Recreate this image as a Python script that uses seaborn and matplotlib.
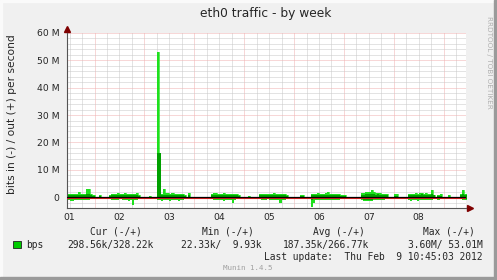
import numpy as np
import matplotlib
matplotlib.use("Agg")
import matplotlib.pyplot as plt
import seaborn as sns
from matplotlib.patches import Rectangle
from matplotlib.transforms import blended_transform_factory

# ---------------- data (values in Mbit/s, hourly, first bin = Feb 1 11:00) ----------------
start_hour = 11
out_avg = [
    0.6, 0.7, 0.6, 0.8, 0.7, 0.9, 0.7, 0.6, 0.7, 1.0, 1.1, 0.6, 0.5, 0, 0, 0.3, 0, 0, 0, 0, 0.5, 0.6, 0.7, 0.6,
    0.7, 0.6, 0.6, 0.8, 0.7, 0.6, 0.7, 0.6, 0.7, 0.6, 0.5, 0, 0, 0, 0, 0.2, 0, 0, 0, 16.0, 16.0, 0.7, 0.9, 0.7,
    0.8, 0.7, 0.8, 0.7, 0.6, 0.7, 0.6, 0.7, 0.5, 0, 0.6, 0, 0, 0, 0, 0, 0, 0, 0, 0, 0, 0.6, 0.8, 0.8,
    0.7, 0.6, 0.7, 0.8, 0.6, 0.7, 0.6, 0.6, 0.7, 0.6, 0.5, 0, 0, 0, 0, 0.2, 0, 0, 0, 0, 0.6, 0.7, 0.6, 0.7,
    0.6, 0.7, 0.6, 0.8, 0.7, 0.6, 0.7, 0.6, 0.6, 0.5, 0, 0, 0, 0, 0, 0, 0.3, 0.3, 0, 0, 0, 0.6, 0.7, 0.6,
    0.8, 0.7, 0.6, 0.7, 0.8, 0.9, 0.7, 0.6, 0.7, 0.6, 0.7, 0.5, 0.3, 0.3, 0, 0, 0, 0, 0, 0, 0, 0.8, 0.9, 1.0,
    1.1, 1.0, 1.2, 1.0, 0.9, 1.0, 0.8, 0.9, 0.7, 0.6, 0, 0, 0, 0.5, 0.5, 0, 0, 0, 0, 0, 0.7, 0.8, 0.7, 0.9,
    0.8, 0.9, 1.0, 0.8, 0.9, 0.8, 0.7, 1.0, 0.6, 0, 0.3, 0.3, 0, 0, 0, 0.2, 0, 0, 0, 0, 0, 0.6, 1.0, 0.7,
]
out_max = [
    1.0, 1.2, 1.0, 1.3, 1.1, 2.0, 1.2, 1.0, 1.1, 3.0, 3.0, 1.2, 0.8, 0, 0, 0.8, 0, 0, 0, 0, 0.9, 1.1, 1.2, 1.0,
    1.5, 1.1, 1.0, 1.6, 1.2, 1.0, 1.3, 1.1, 1.2, 1.4, 0.9, 0, 0, 0, 0, 0.4, 0, 0, 0, 53.0, 1.2, 1.3, 3.0, 1.4,
    1.6, 1.2, 1.5, 1.1, 1.0, 1.2, 1.0, 1.3, 0.8, 0, 1.5, 0, 0, 0, 0, 0, 0, 0, 0, 0, 0, 1.0, 1.5, 1.5,
    1.3, 1.0, 1.2, 1.6, 1.1, 1.3, 1.0, 1.1, 1.2, 1.0, 0.8, 0, 0, 0, 0, 0.4, 0, 0, 0, 0, 1.0, 1.2, 1.0, 1.1,
    1.0, 1.2, 1.1, 1.6, 1.2, 1.0, 1.1, 1.0, 1.2, 0.8, 0, 0, 0, 0, 0, 0, 0.8, 0.7, 0, 0, 0, 1.0, 1.2, 1.0,
    1.5, 1.2, 1.1, 1.3, 1.4, 2.0, 1.2, 1.0, 1.2, 1.1, 1.3, 0.9, 0.8, 0.8, 0, 0, 0, 0, 0, 0, 0, 1.4, 1.6, 1.8,
    1.7, 2.0, 2.6, 1.9, 1.6, 1.5, 1.4, 1.3, 1.1, 1.0, 0, 0, 0, 1.2, 1.2, 0, 0, 0, 0, 0, 1.2, 1.3, 1.1, 1.6,
    1.3, 1.5, 1.6, 1.3, 1.5, 1.2, 1.1, 2.5, 0.9, 0, 0.8, 1.2, 0, 0, 0, 0.6, 0, 0, 0, 0, 0, 1.2, 2.5, 1.3,
]
in_avg = [
    0.6, 0.7, 0.8, 0.7, 0.6, 0.7, 0.6, 0.7, 0.6, 0.5, 0.6, 0.5, 0.4, 0, 0, 0.2, 0, 0, 0, 0, 0.5, 0.6, 0.5, 0.6,
    0.6, 0.5, 0.6, 0.5, 0.6, 0.7, 0.6, 0.8, 0.6, 0.5, 0.5, 0, 0, 0, 0, 0.1, 0, 0, 0, 0.8, 0.7, 0.8, 0.6, 0.7,
    0.6, 0.7, 0.6, 0.5, 0.6, 0.7, 0.6, 0.5, 0.4, 0, 0.3, 0, 0, 0, 0, 0, 0, 0, 0, 0, 0, 0.5, 0.6, 0.6,
    0.6, 0.5, 0.6, 0.7, 0.6, 0.5, 0.6, 0.5, 0.6, 0.5, 0.4, 0, 0, 0, 0, 0.1, 0, 0, 0, 0, 0.5, 0.6, 0.5, 0.6,
    0.5, 0.6, 0.5, 0.6, 0.6, 0.7, 0.8, 0.6, 0.5, 0.4, 0, 0, 0, 0, 0, 0, 0.2, 0.2, 0, 0, 0, 1.0, 0.8, 0.6,
    0.6, 0.5, 0.6, 0.5, 0.6, 0.7, 0.6, 0.5, 0.6, 0.5, 0.6, 0.4, 0.2, 0.2, 0, 0, 0, 0, 0, 0, 0, 0.8, 0.9, 1.0,
    1.0, 0.9, 1.0, 0.8, 0.8, 0.7, 0.7, 0.6, 0.6, 0.5, 0, 0, 0, 0.3, 0.3, 0, 0, 0, 0, 0, 0.6, 0.7, 0.6, 0.7,
    0.8, 0.7, 0.8, 0.7, 0.6, 0.7, 0.6, 0.6, 0.5, 0, 0.3, 0.2, 0, 0, 0, 0.1, 0, 0, 0, 0, 0, 0.5, 0.6, 0.6,
]
in_max = [
    1.0, 1.3, 1.5, 1.2, 1.0, 1.1, 1.0, 1.2, 1.0, 0.9, 1.0, 0.8, 0.6, 0, 0, 0.4, 0, 0, 0, 0, 0.8, 1.0, 0.9, 1.1,
    0.9, 0.8, 1.2, 0.9, 1.0, 1.4, 1.1, 3.0, 1.0, 0.9, 0.8, 0, 0, 0, 0, 0.3, 0, 0, 0, 1.2, 1.1, 1.6, 1.0, 1.2,
    1.0, 1.3, 1.0, 0.9, 1.2, 1.4, 1.0, 0.9, 0.7, 0, 0.5, 0, 0, 0, 0, 0, 0, 0, 0, 0, 0, 0.8, 1.0, 1.1,
    1.0, 0.9, 1.0, 1.3, 1.0, 0.9, 0.9, 2.0, 1.0, 0.8, 0.6, 0, 0, 0, 0, 0.3, 0, 0, 0, 0, 0.8, 1.0, 0.9, 1.0,
    0.8, 1.0, 0.9, 1.0, 1.1, 1.2, 2.0, 1.0, 0.9, 0.7, 0, 0, 0, 0, 0, 0, 0.4, 0.4, 0, 0, 0, 3.5, 2.0, 1.2,
    1.0, 0.9, 1.0, 0.9, 1.0, 1.2, 1.0, 0.9, 1.0, 0.9, 1.0, 0.7, 0.4, 0.4, 0, 0, 0, 0, 0, 0, 0, 1.2, 1.6, 1.5,
    1.5, 1.3, 1.4, 1.2, 1.1, 1.0, 1.0, 1.1, 0.9, 0.8, 0, 0, 0, 0.5, 0.5, 0, 0, 0, 0, 0, 1.0, 1.5, 1.0, 1.2,
    1.6, 1.2, 1.1, 1.0, 1.1, 1.2, 0.9, 1.0, 0.8, 0, 1.2, 0.4, 0, 0, 0, 0.3, 0, 0, 0, 0, 0, 0.8, 1.0, 0.9,
]
day_labels = ["01", "02", "03", "04", "05", "06", "07", "08"]
y_tick_values = [0, 10, 20, 30, 40, 50, 60]
y_tick_labels = ["0", "10 M", "20 M", "30 M", "40 M", "50 M", "60 M"]
legend_headers = ["Cur (-/+)", "Min (-/+)", "Avg (-/+)", "Max (-/+)"]
legend_values = ["298.56k/328.22k", "22.33k/  9.93k", "187.35k/266.77k", "3.60M/ 53.01M"]
series_name = "bps"
title = "eth0 traffic - by week"
y_label = "bits in (-) / out (+) per second"
last_update = "Last update:  Thu Feb  9 10:45:03 2012"
footer = "Munin 1.4.5"
side_text = "RRDTOOL / TOBI OETIKER"

# ---------------- style ----------------
sns.set_style("white")
plt.rcParams['font.family'] = ['DejaVu Sans']

W, H = 497, 280
fig = plt.figure(figsize=(W / 100, H / 100), dpi=100, facecolor='#f0f0f0')

def fx(px):
    return px / W

def fy(py):
    return 1 - py / H

# shade border
fig.patches.append(Rectangle((0, fy(2)), 1, 2 / H, transform=fig.transFigure, color='#fafafa', zorder=0))
fig.patches.append(Rectangle((0, 0), 2 / W, 1, transform=fig.transFigure, color='#fafafa', zorder=0))
fig.patches.append(Rectangle((0, 0), 1, 3 / H, transform=fig.transFigure, color='#9a9a9a', zorder=0))
fig.patches.append(Rectangle((fx(494), 0), 3 / W, 1, transform=fig.transFigure, color='#9a9a9a', zorder=0))

ax_l, ax_r, ax_t, ax_b = 67, 466, 33, 208
ax = fig.add_axes([fx(ax_l), fy(ax_b), (ax_r - ax_l) / W, (ax_b - ax_t) / H])
ax.set_facecolor('white')

hours = start_hour + np.arange(len(out_avg))
hx = np.append(hours, hours[-1] + 1)
def ext(v):
    v = np.asarray(v, dtype=float)
    return np.append(v, v[-1])

oa, om, ia, im = ext(out_avg), ext(out_max), ext(in_avg), ext(in_max)

bright = '#1ee01e'
dark = '#00a000'
ax.fill_between(hx, 0, om, step='post', color=bright, lw=0, zorder=2)
ax.fill_between(hx, 0, -im, step='post', color=bright, lw=0, zorder=2)
sns.lineplot(x=hx, y=om, drawstyle='steps-post', color=bright, lw=0.5, ax=ax, estimator=None, zorder=2)
ax.fill_between(hx, -ia, oa, step='post', color=dark, lw=0, zorder=3)

ax.axhline(-0.37, color='#e02020', lw=0.8, zorder=4)
ax.axhline(0, color='black', lw=0.9, zorder=5)

ax.set_xlim(10.75, 202.75)
ax.set_ylim(-4.0, 60)

# grid
midnights = np.arange(24, 203, 24)
ax.set_xticks(midnights)
ax.set_xticklabels([])
ax.set_xticks(np.arange(12, 203, 6), minor=True)
ax.set_yticks(y_tick_values)
ax.set_yticklabels(y_tick_labels)
ax.set_yticks(np.arange(-2, 60, 2), minor=True)
ax.grid(which='minor', color='#c8c8c8', ls=(0, (1, 1)), lw=0.72, zorder=1)
ax.grid(which='major', color='#f0b0b0', ls=(0, (1, 1)), lw=0.72, zorder=1)
ax.set_axisbelow(True)
ax.tick_params(axis='x', which='major', length=3, color='#e06060', direction='out', width=0.72)
ax.tick_params(axis='x', which='minor', length=0)
ax.tick_params(axis='y', which='both', length=0, pad=5.5, labelsize=6.7)

trans = blended_transform_factory(ax.transData, ax.transAxes)
for i, lab in enumerate(day_labels):
    ax.text(12 + 24 * i, -9 / 175, lab, transform=trans, ha='center', va='center', fontsize=6.7)

for s in ['top', 'right']:
    ax.spines[s].set_visible(False)
for s in ['left', 'bottom']:
    ax.spines[s].set_color('#555555')
    ax.spines[s].set_linewidth(0.8)

# axis extensions + arrows
ax.plot([0, 0], [1, 1 + 3 / 175], transform=ax.transAxes, color='#555555', lw=0.8, clip_on=False)
ax.plot([1, 1 + 2 / 399], [0, 0], transform=ax.transAxes, color='#555555', lw=0.8, clip_on=False)
ax.plot([0], [1 + 4 / 175], marker='^', ms=4.5, color='#7f0000', transform=ax.transAxes, clip_on=False)
ax.plot([1 + 4 / 399], [0], marker='>', ms=4.5, color='#7f0000', transform=ax.transAxes, clip_on=False)

ax.set_ylabel('')
ax.set_xlabel('')

# texts
fig.text(fx(266), fy(14), title, ha='center', va='center', fontsize=8.8)
fig.text(fx(12), fy(114), y_label, ha='center', va='center', rotation=90, fontsize=7.7)
fig.text(fx(489), fy(62), side_text, ha='center', va='center', rotation=270, fontsize=5.2, color='#b0b0b0')

mono = 'DejaVu Sans Mono'
fs = 6.9
header_x = [90, 202, 313, 423]
for hx_, txt in zip(header_x, legend_headers):
    fig.text(fx(hx_), fy(232), txt, ha='left', va='center', fontsize=fs, family=mono)

fig.patches.append(Rectangle((fx(13), fy(248)), 8 / W, 7 / H, transform=fig.transFigure,
                             facecolor='#00cc00', edgecolor='#222222', lw=0.6))
fig.text(fx(26), fy(245), series_name, ha='left', va='center', fontsize=fs, family=mono)
val_x = [67, 181, 283]
for vx, txt in zip(val_x, legend_values[:3]):
    fig.text(fx(vx), fy(245), txt, ha='left', va='center', fontsize=fs, family=mono)
fig.text(fx(483), fy(245), legend_values[3], ha='right', va='center', fontsize=fs, family=mono)
fig.text(fx(483), fy(257), last_update, ha='right', va='center', fontsize=fs, family=mono)
fig.text(fx(248), fy(268), footer, ha='center', va='center', fontsize=5.4, family=mono, color='#a0a0a0')

fig.savefig('out.png', dpi=100, facecolor=fig.get_facecolor())
